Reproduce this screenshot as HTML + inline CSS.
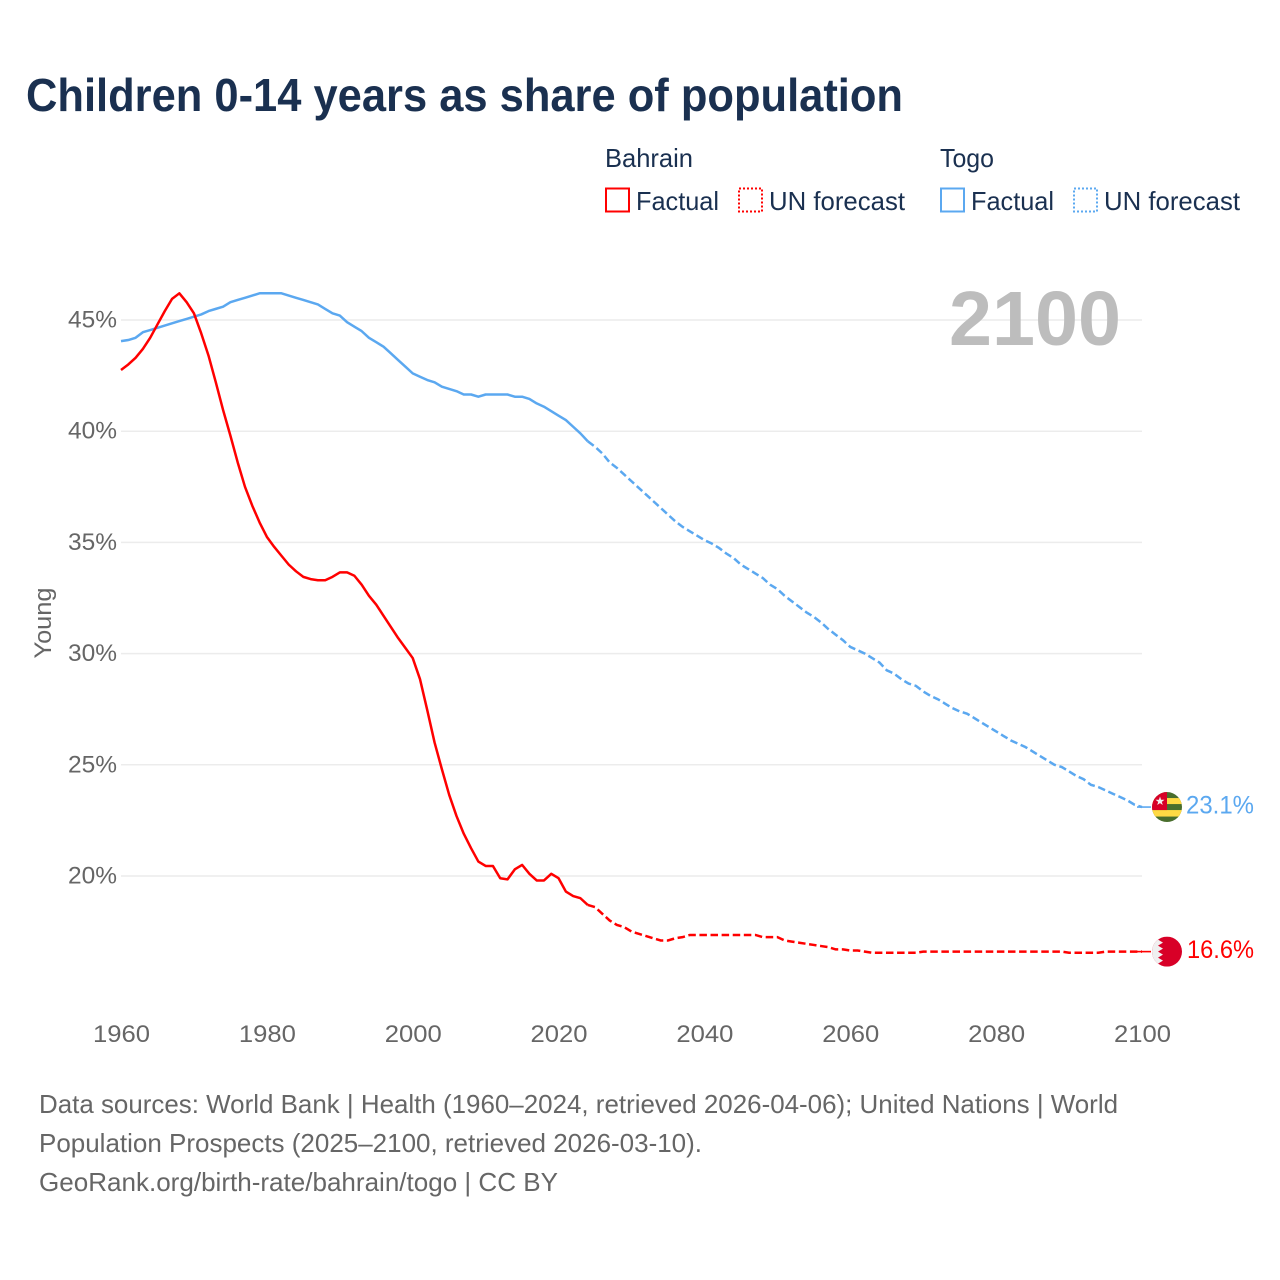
<!DOCTYPE html>
<html lang="en">
<head>
<meta charset="utf-8">
<title>Children 0-14 years as share of population</title>
<style>
html,body{margin:0;padding:0;background:#fff}
svg{display:block}
text{font-family:"Liberation Sans",sans-serif}
</style>
</head>
<body>
<svg id="chart" xmlns="http://www.w3.org/2000/svg" width="1280" height="1280" viewBox="0 0 1280 1280">
  <text x="26" y="111" font-size="46" font-weight="700" fill="#1a3050" textLength="877" lengthAdjust="spacingAndGlyphs">Children 0-14 years as share of population</text>

  <g font-size="26" fill="#1a3050">
    <text x="605" y="167" textLength="88" lengthAdjust="spacingAndGlyphs">Bahrain</text>
    <text x="940" y="167" textLength="54" lengthAdjust="spacingAndGlyphs">Togo</text>
    <rect x="606" y="188.5" width="23" height="23" fill="none" stroke="#ff0000" stroke-width="2"/>
    <text x="636" y="210" textLength="83" lengthAdjust="spacingAndGlyphs">Factual</text>
    <rect x="739" y="188.5" width="23" height="23" fill="none" stroke="#ff0000" stroke-width="2" stroke-dasharray="2 2"/>
    <text x="769" y="210" textLength="136" lengthAdjust="spacingAndGlyphs">UN forecast</text>
    <rect x="941" y="188.5" width="23" height="23" fill="none" stroke="#5ba8f0" stroke-width="2"/>
    <text x="971" y="210" textLength="83" lengthAdjust="spacingAndGlyphs">Factual</text>
    <rect x="1074" y="188.5" width="23" height="23" fill="none" stroke="#5ba8f0" stroke-width="2" stroke-dasharray="2 2"/>
    <text x="1104" y="210" textLength="136" lengthAdjust="spacingAndGlyphs">UN forecast</text>
  </g>

  <g id="grid"></g>
  <text x="949" y="345" font-size="77" font-weight="700" fill="#bdbdbd" textLength="172" lengthAdjust="spacingAndGlyphs">2100</text>
  <g id="yticks" font-size="24" fill="#666666"></g>
  <g id="xticks" font-size="24" fill="#666666"></g>
  <text transform="translate(51,623) rotate(-90)" text-anchor="middle" font-size="24" fill="#666666" textLength="71" lengthAdjust="spacingAndGlyphs">Young</text>

  <g id="series"></g>

  <defs>
    <clipPath id="flag-clip"><circle cx="0" cy="0" r="15"/></clipPath>
  </defs>
  <g id="flag-togo" clip-path="url(#flag-clip)">
    <rect x="-15" y="-15" width="30" height="30" fill="#496e2d"/>
    <rect x="-15" y="-9" width="30" height="6" fill="#ffda44"/>
    <rect x="-15" y="3" width="30" height="6.5" fill="#ffda44"/>
    <rect x="-15" y="-15" width="15" height="18" fill="#d80027"/>
    <polygon points="-7,-10.5 -5.9,-7.3 -2.5,-7.3 -5.2,-5.2 -4.2,-2 -7,-3.9 -9.8,-2 -8.8,-5.2 -11.5,-7.3 -8.1,-7.3" fill="#f0f0f0"/>
  </g>
  <g id="flag-bahrain" clip-path="url(#flag-clip)">
    <rect x="-15" y="-15" width="30" height="30" fill="#d80027"/>
    <polygon points="-16,-16 -4,-16 -4,-15 -9,-12 -4,-9 -9,-6 -4,-3 -9,0 -4,3 -9,6 -4,9 -9,12 -4,15 -4,16 -16,16" fill="#f0f0f0"/>
  </g>
  <text id="label-togo" x="1186" font-size="25" fill="#5ba8f0" textLength="68" lengthAdjust="spacingAndGlyphs"></text>
  <text id="label-bahrain" x="1187" font-size="25" fill="#ff0000" textLength="67" lengthAdjust="spacingAndGlyphs"></text>

  <g font-size="26" fill="#666666">
    <text x="39" y="1113" textLength="1079" lengthAdjust="spacingAndGlyphs">Data sources: World Bank | Health (1960–2024, retrieved 2026-04-06); United Nations | World</text>
    <text x="39" y="1152" textLength="663" lengthAdjust="spacingAndGlyphs">Population Prospects (2025–2100, retrieved 2026-03-10).</text>
    <text x="39" y="1191" textLength="519" lengthAdjust="spacingAndGlyphs">GeoRank.org/birth-rate/bahrain/togo | CC BY</text>
  </g>
</svg>

<script>
const firstYear = 1960;
const forecastStartYear = 2025;
const xTickYears = [1960, 1980, 2000, 2020, 2040, 2060, 2080, 2100];
const yTickValues = [20, 25, 30, 35, 40, 45];
const bahrainValues = [
  42.75, 43.0, 43.3, 43.7, 44.2, 44.8, 45.4, 45.95, 46.2, 45.8,
  45.3, 44.4, 43.4, 42.2, 40.95, 39.8, 38.6, 37.5, 36.65, 35.9,
  35.25, 34.8, 34.4, 34.0, 33.7, 33.45, 33.35, 33.3, 33.3, 33.45,
  33.65, 33.65, 33.5, 33.1, 32.6, 32.2, 31.7, 31.2, 30.7, 30.25,
  29.8, 28.85, 27.45, 26.0, 24.8, 23.65, 22.7, 21.9, 21.25, 20.65,
  20.45, 20.45, 19.9, 19.85, 20.3, 20.5, 20.1, 19.8, 19.8, 20.1,
  19.9, 19.3, 19.1, 19.0, 18.7, 18.6, 18.3, 18.0, 17.8, 17.7,
  17.5, 17.4, 17.3, 17.2, 17.1, 17.1, 17.2, 17.25, 17.35, 17.35,
  17.35, 17.35, 17.35, 17.35, 17.35, 17.35, 17.35, 17.35, 17.25, 17.25,
  17.25, 17.1, 17.05, 17.0, 16.95, 16.9, 16.85, 16.8, 16.7, 16.7,
  16.65, 16.65, 16.6, 16.55, 16.55, 16.55, 16.55, 16.55, 16.55, 16.55,
  16.6, 16.6, 16.6, 16.6, 16.6, 16.6, 16.6, 16.6, 16.6, 16.6,
  16.6, 16.6, 16.6, 16.6, 16.6, 16.6, 16.6, 16.6, 16.6, 16.6,
  16.55, 16.55, 16.55, 16.55, 16.55, 16.6, 16.6, 16.6, 16.6, 16.6,
  16.6
];
const togoValues = [
  44.05, 44.1, 44.2, 44.45, 44.55, 44.65, 44.75, 44.85, 44.95, 45.05,
  45.15, 45.25, 45.4, 45.5, 45.6, 45.8, 45.9, 46.0, 46.1, 46.2,
  46.2, 46.2, 46.2, 46.1, 46.0, 45.9, 45.8, 45.7, 45.5, 45.3,
  45.2, 44.9, 44.7, 44.5, 44.2, 44.0, 43.8, 43.5, 43.2, 42.9,
  42.6, 42.45, 42.3, 42.2, 42.0, 41.9, 41.8, 41.65, 41.65, 41.55,
  41.65, 41.65, 41.65, 41.65, 41.55, 41.55, 41.45, 41.25, 41.1, 40.9,
  40.7, 40.5, 40.2, 39.9, 39.55, 39.3, 39.0, 38.6, 38.35, 38.05,
  37.75, 37.45, 37.15, 36.85, 36.55, 36.25, 35.95, 35.7, 35.5, 35.3,
  35.1, 34.95, 34.75, 34.5, 34.3, 34.0, 33.8, 33.6, 33.4, 33.1,
  32.9, 32.6, 32.35, 32.1, 31.85, 31.65, 31.4, 31.1, 30.85, 30.6,
  30.3, 30.15, 30.0, 29.8, 29.6, 29.25, 29.1, 28.85, 28.65, 28.55,
  28.3, 28.1, 27.95, 27.75, 27.55, 27.4, 27.3, 27.1, 26.9, 26.7,
  26.5, 26.3, 26.1, 25.95, 25.8, 25.6, 25.4, 25.2, 25.0, 24.9,
  24.7, 24.5, 24.35, 24.1, 24.0, 23.85, 23.7, 23.55, 23.4, 23.2,
  23.1
];

const SVG_NS = 'http://www.w3.org/2000/svg';
const RED = '#ff0000';
const BLUE = '#5ba8f0';

function xScale(year) {
  return 121 + (year - 1960) * (1142 - 121) / 140;
}
function yScale(value) {
  return 876 - (value - 20) * (876 - 320) / 25;
}
function make(tag, parent) {
  const node = document.createElementNS(SVG_NS, tag);
  parent.appendChild(node);
  return node;
}

const gridGroup = document.getElementById('grid');
const yTickGroup = document.getElementById('yticks');
const xTickGroup = document.getElementById('xticks');
const seriesGroup = document.getElementById('series');

yTickValues.forEach(function (value) {
  const line = make('line', gridGroup);
  
  
  line.setAttribute('x1', xScale(1960));
  line.setAttribute('x2', xScale(2100));
  line.setAttribute('y1', yScale(value));
  line.setAttribute('y2', yScale(value));
  line.setAttribute('stroke', '#ececec');
  line.setAttribute('stroke-width', '1.5');

  const label = make('text', yTickGroup);
  
  
  label.setAttribute('x', 68);
  label.setAttribute('y', yScale(value) + 7.5);
  label.setAttribute('textLength', 49);
  label.setAttribute('lengthAdjust', 'spacingAndGlyphs');
  label.textContent = value + '%';
});

xTickYears.forEach(function (year) {
  const label = make('text', xTickGroup);
  
  
  label.setAttribute('x', xScale(year) - 28);
  label.setAttribute('y', 1042);
  label.setAttribute('textLength', 57);
  label.setAttribute('lengthAdjust', 'spacingAndGlyphs');
  label.textContent = String(year);
});

function pathFor(values, fromYear, toYear) {
  const parts = [];
  values.forEach(function (value, i) {
    const year = firstYear + i;
    if (year >= fromYear && year <= toYear) {
      parts.push((parts.length ? 'L' : 'M') + xScale(year).toFixed(2) + ' ' + yScale(value).toFixed(2));
    }
  });
  return parts.join(' ');
}

function drawSeries(name, values, color) {
  const lastYear = firstYear + values.length - 1;
  const lastValue = values[values.length - 1];

  const connector = make('line', seriesGroup);
  
  
  connector.setAttribute('x1', xScale(lastYear) - 5);
  connector.setAttribute('x2', xScale(lastYear) + 9);
  connector.setAttribute('y1', yScale(lastValue));
  connector.setAttribute('y2', yScale(lastValue));
  connector.setAttribute('stroke', color);
  connector.setAttribute('stroke-width', '1.6');

  const factual = make('path', seriesGroup);
  
  
  factual.setAttribute('d', pathFor(values, firstYear, forecastStartYear - 1));
  factual.setAttribute('fill', 'none');
  factual.setAttribute('stroke', color);
  factual.setAttribute('stroke-width', '2.5');
  factual.setAttribute('stroke-linejoin', 'round');

  const forecast = make('path', seriesGroup);
  
  
  forecast.setAttribute('d', pathFor(values, forecastStartYear - 1, lastYear));
  forecast.setAttribute('fill', 'none');
  forecast.setAttribute('stroke', color);
  forecast.setAttribute('stroke-width', '2.5');
  forecast.setAttribute('stroke-dasharray', '7.5 3.6');

  const flag = document.getElementById('flag-' + name);
  flag.setAttribute('transform', 'translate(1167,' + yScale(lastValue).toFixed(2) + ')');

  const label = document.getElementById('label-' + name);
  label.setAttribute('y', yScale(lastValue) + 6.5);
  label.textContent = lastValue.toFixed(1) + '%';
}

drawSeries('togo', togoValues, BLUE);
drawSeries('bahrain', bahrainValues, RED);
</script>
</body>
</html>
